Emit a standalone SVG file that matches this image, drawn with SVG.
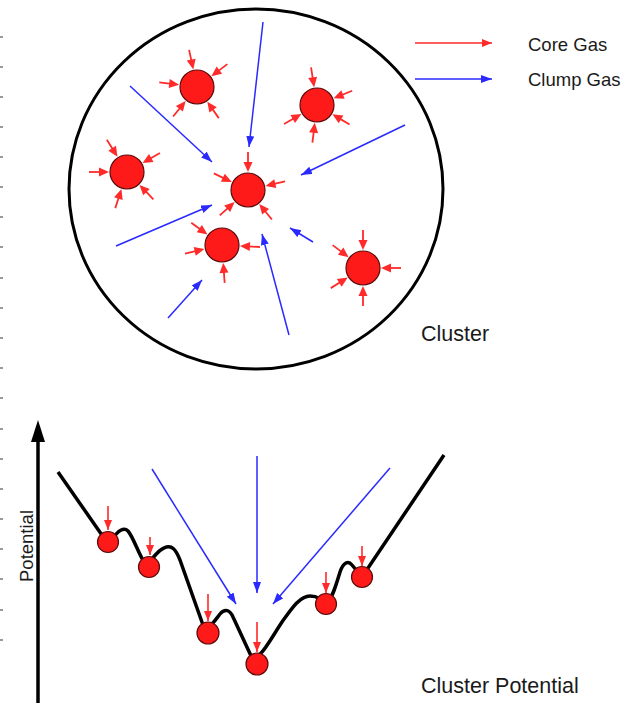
<svg xmlns="http://www.w3.org/2000/svg" xmlns:xlink="http://www.w3.org/1999/xlink" width="626" height="706" viewBox="0 0 626 706">
<defs>
<style>
.txt{font-family:"Liberation Sans",Arial,sans-serif;font-size:18.5px;fill:#1a1a1a}
.big{font-size:21.5px}
.blob{fill:#ff1a1a;stroke:#5a0c0c;stroke-width:1.2}
.red{stroke:#ff2a2a;stroke-width:1.6;fill:none}
.blue{stroke:#2a2aff;stroke-width:1.5;fill:none}
.tick{stroke:#555;stroke-width:1.2}
</style>
<marker id="bh" markerUnits="userSpaceOnUse" markerWidth="12" markerHeight="10" refX="11" refY="4" orient="auto">
<path d="M0,0 L11,4 L0,8 Z" fill="#2a2aff"/>
</marker>
<marker id="rh" markerUnits="userSpaceOnUse" markerWidth="12" markerHeight="10" refX="10" refY="4" orient="auto">
<path d="M0,0 L10,4 L0,8 Z" fill="#ff2a2a"/>
</marker>
<g id="ra">
<line x1="38" y1="0" x2="26" y2="0" stroke="#ff2a2a" stroke-width="1.8"/>
<path d="M18,0 L28,-4.5 L28,4.5 Z" fill="#ff2a2a"/>
</g>
</defs>
<rect width="626" height="706" fill="#fff"/>
<g id="ticks">
<line class="tick" x1="0" y1="37" x2="3" y2="37"/><line class="tick" x1="0" y1="67" x2="3" y2="67"/><line class="tick" x1="0" y1="97" x2="3" y2="97"/><line class="tick" x1="0" y1="127" x2="3" y2="127"/><line class="tick" x1="0" y1="157" x2="3" y2="157"/><line class="tick" x1="0" y1="187" x2="3" y2="187"/><line class="tick" x1="0" y1="217" x2="3" y2="217"/><line class="tick" x1="0" y1="247" x2="3" y2="247"/><line class="tick" x1="0" y1="278" x2="3" y2="278"/><line class="tick" x1="0" y1="308" x2="3" y2="308"/><line class="tick" x1="0" y1="338" x2="3" y2="338"/><line class="tick" x1="0" y1="368" x2="3" y2="368"/><line class="tick" x1="0" y1="398" x2="3" y2="398"/><line class="tick" x1="0" y1="429" x2="3" y2="429"/><line class="tick" x1="0" y1="459" x2="3" y2="459"/><line class="tick" x1="0" y1="489" x2="3" y2="489"/><line class="tick" x1="0" y1="519" x2="3" y2="519"/><line class="tick" x1="0" y1="549" x2="3" y2="549"/><line class="tick" x1="0" y1="579" x2="3" y2="579"/><line class="tick" x1="0" y1="610" x2="3" y2="610"/><line class="tick" x1="0" y1="640" x2="3" y2="640"/>
</g>
<g id="cluster">
<ellipse cx="256" cy="189" rx="187" ry="180" fill="none" stroke="#000" stroke-width="3"/>
</g>
<g id="connectors">
<line class="blue" x1="263" y1="22" x2="249" y2="147" marker-end="url(#bh)"/>
<line class="blue" x1="130" y1="86" x2="212" y2="162" marker-end="url(#bh)"/>
<line class="blue" x1="116" y1="246" x2="212" y2="205" marker-end="url(#bh)"/>
<line class="blue" x1="405" y1="125" x2="301" y2="175" marker-end="url(#bh)"/>
<line class="blue" x1="313" y1="242" x2="290" y2="228" marker-end="url(#bh)"/>
<line class="blue" x1="289" y1="335" x2="262" y2="234" marker-end="url(#bh)"/>
<line class="blue" x1="168" y1="318" x2="202" y2="280" marker-end="url(#bh)"/>
<line class="blue" x1="152" y1="469" x2="236" y2="604" marker-end="url(#bh)"/>
<line class="blue" x1="257" y1="456" x2="257" y2="593" marker-end="url(#bh)"/>
<line class="blue" x1="390" y1="468" x2="273" y2="604" marker-end="url(#bh)"/>
<line class="red" x1="108" y1="506" x2="108" y2="530" marker-end="url(#rh)"/>
<line class="red" x1="150" y1="537" x2="150" y2="555" marker-end="url(#rh)"/>
<line class="red" x1="208" y1="594" x2="208" y2="621" marker-end="url(#rh)"/>
<line class="red" x1="257" y1="622" x2="257" y2="652" marker-end="url(#rh)"/>
<line class="red" x1="326" y1="572" x2="326" y2="593" marker-end="url(#rh)"/>
<line class="red" x1="362" y1="546" x2="362" y2="566" marker-end="url(#rh)"/>
</g>
<g id="blob1">
<circle class="blob" cx="197" cy="87" r="17"/>
<use xlink:href="#ra" transform="translate(197,87) rotate(-102)"/><use xlink:href="#ra" transform="translate(197,87) rotate(-37)"/><use xlink:href="#ra" transform="translate(197,87) rotate(187)"/><use xlink:href="#ra" transform="translate(197,87) rotate(129)"/><use xlink:href="#ra" transform="translate(197,87) rotate(55)"/>
</g>
<g id="blob2">
<circle class="blob" cx="317" cy="105" r="17"/>
<use xlink:href="#ra" transform="translate(317,105) rotate(-99)"/><use xlink:href="#ra" transform="translate(317,105) rotate(-22)"/><use xlink:href="#ra" transform="translate(317,105) rotate(150)"/><use xlink:href="#ra" transform="translate(317,105) rotate(97)"/><use xlink:href="#ra" transform="translate(317,105) rotate(31)"/>
</g>
<g id="blob3">
<circle class="blob" cx="127" cy="172" r="17"/>
<use xlink:href="#ra" transform="translate(127,172) rotate(-122)"/><use xlink:href="#ra" transform="translate(127,172) rotate(-30)"/><use xlink:href="#ra" transform="translate(127,172) rotate(180)"/><use xlink:href="#ra" transform="translate(127,172) rotate(108)"/><use xlink:href="#ra" transform="translate(127,172) rotate(46)"/>
</g>
<g id="blob4">
<circle class="blob" cx="248" cy="190" r="17"/>
<use xlink:href="#ra" transform="translate(248,190) rotate(-90)"/><use xlink:href="#ra" transform="translate(248,190) rotate(-154)"/><use xlink:href="#ra" transform="translate(248,190) rotate(-13)"/><use xlink:href="#ra" transform="translate(248,190) rotate(138)"/><use xlink:href="#ra" transform="translate(248,190) rotate(51)"/>
</g>
<g id="blob5">
<circle class="blob" cx="222" cy="245" r="17"/>
<use xlink:href="#ra" transform="translate(222,245) rotate(-144)"/><use xlink:href="#ra" transform="translate(222,245) rotate(167)"/><use xlink:href="#ra" transform="translate(222,245) rotate(3)"/><use xlink:href="#ra" transform="translate(222,245) rotate(86)"/>
</g>
<g id="blob6">
<circle class="blob" cx="363" cy="268" r="17"/>
<use xlink:href="#ra" transform="translate(363,268) rotate(-90)"/><use xlink:href="#ra" transform="translate(363,268) rotate(-143)"/><use xlink:href="#ra" transform="translate(363,268) rotate(0)"/><use xlink:href="#ra" transform="translate(363,268) rotate(148)"/><use xlink:href="#ra" transform="translate(363,268) rotate(90)"/>
</g>
<g id="legend">
<line class="red" x1="415" y1="43" x2="492" y2="43" marker-end="url(#rh)"/>
<line class="blue" x1="415" y1="79" x2="492" y2="79" marker-end="url(#bh)"/>
<text class="txt" x="528" y="51">Core Gas</text>
<text class="txt" x="528" y="86">Clump Gas</text>
</g>
<text class="txt big" x="421" y="341">Cluster</text>
<g id="axis">
<line x1="38" y1="703" x2="38" y2="438" stroke="#000" stroke-width="3.5"/>
<path d="M38,420 L45,442 L31,442 Z" fill="#000"/>
<text class="txt" transform="translate(33,546) rotate(-90)" text-anchor="middle">Potential</text>
</g>
<g id="potential">
<path d="M58,472 L104,538 L112,540 C118,530 124,527 128,531 C134,538 139,556 146,565 C152,560 158,550 164,548 C172,544 176,550 180,560 L203,625 C210,630 215,620 220,614 C225,608 230,610 233,617 L252,658 C260,660 270,640 282,622 C292,608 300,596 310,596 C318,596 322,600 326,604 C332,600 336,585 340,572 C343,563 348,560 352,565 L362,577 L444,455" fill="none" stroke="#000" stroke-width="3.5" stroke-linejoin="round"/>
<circle class="blob" cx="108" cy="542" r="10.5"/>
<circle class="blob" cx="149" cy="567" r="10.5"/>
<circle class="blob" cx="208" cy="633" r="11"/>
<circle class="blob" cx="257" cy="664" r="11"/>
<circle class="blob" cx="326" cy="604" r="10.5"/>
<circle class="blob" cx="362" cy="577" r="10.5"/>
</g>
<text class="txt big" x="421" y="693">Cluster Potential</text>
</svg>
